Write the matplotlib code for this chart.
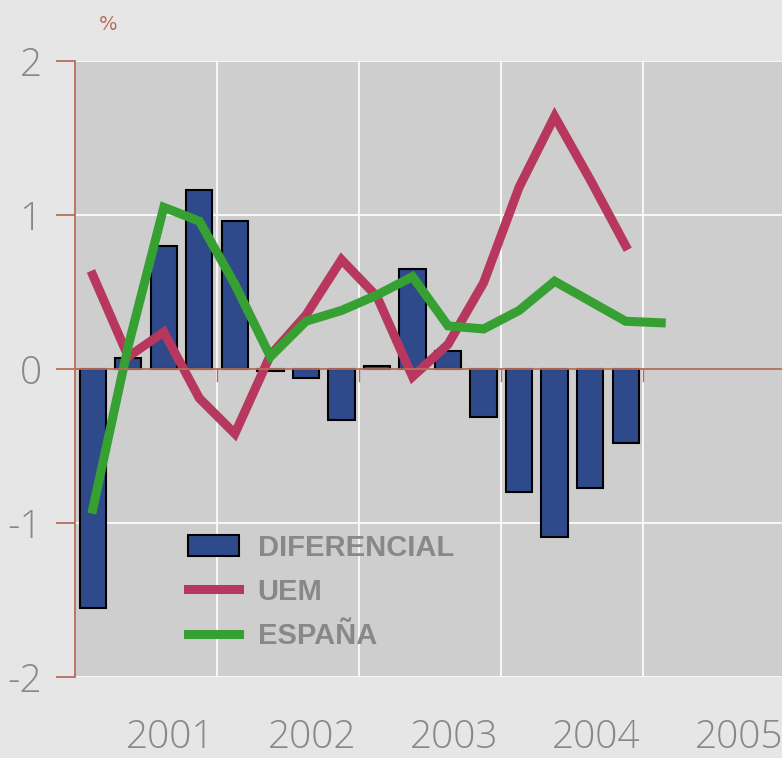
import matplotlib.pyplot as plt
import matplotlib.transforms as mtransforms
from matplotlib.patches import Patch
from matplotlib.lines import Line2D
import numpy as np

# Quarterly data 2001Q1 .. 2005Q1
diferencial = [-1.55, 0.07, 0.80, 1.16, 0.96, -0.01, -0.06, -0.33,
               0.02, 0.65, 0.12, -0.31, -0.80, -1.09, -0.77, -0.48]
uem = [0.61, 0.08, 0.24, -0.19, -0.42, 0.09, 0.35, 0.71,
       0.47, -0.05, 0.16, 0.56, 1.18, 1.64, 1.23, 0.80]
espana = [-0.91, 0.15, 1.05, 0.96, 0.55, 0.08, 0.31, 0.38,
          0.48, 0.60, 0.28, 0.26, 0.38, 0.57, 0.44, 0.31, 0.30]
years = ["2001", "2002", "2003", "2004", "2005"]

BG_FIG = "#e6e6e6"
BG_AX = "#cecece"
BLUE = "#2e4a8b"
RED = "#b8375e"
GREEN = "#36a032"
AXIS = "#b86e5c"
TXT = "#888888"

fig = plt.figure(figsize=(7.82, 7.58), dpi=100, facecolor=BG_FIG)
ax = fig.add_axes([75 / 782, 81 / 758, 707 / 782, 616 / 758])
ax.set_facecolor(BG_AX)

x_bar = np.arange(len(diferencial)) + 0.5
x_esp = np.arange(len(espana)) + 0.5

ax.bar(x_bar, diferencial, width=0.74, color=BLUE, edgecolor="black",
       linewidth=1.5, zorder=2)
ax.plot(x_bar, uem, color=RED, lw=6.5, solid_joinstyle="miter", zorder=3)
ax.plot(x_esp, espana, color=GREEN, lw=6.5, solid_joinstyle="miter", zorder=4)

ax.set_xlim(0, 19.9)
ax.set_ylim(-2, 2)

# grid
for yv in [-2, -1, 1, 2]:
    ax.axhline(yv, color="white", lw=1.2, zorder=1)
for k in range(1, 5):
    ax.axvline(4 * k, color="white", lw=1.2, zorder=1)
ax.axhline(0, color=AXIS, lw=1.3, zorder=5)
trans = mtransforms.blended_transform_factory(ax.transData, ax.transAxes)
for k in range(1, 6):
    ax.plot([4 * k, 4 * k], [0.5, 0.5 - 12 / 616], color=AXIS, lw=1.0,
            transform=trans, zorder=5, clip_on=False)

for s in ["top", "right", "bottom"]:
    ax.spines[s].set_visible(False)
ax.spines["left"].set_color(AXIS)
ax.spines["left"].set_linewidth(1.3)

ax.set_yticks([-2, -1, 0, 1, 2])
ax.set_yticklabels(["-2", "-1", "0", "1", "2"])
ax.tick_params(axis="y", length=14, width=1.3, color=AXIS, labelsize=28,
               labelcolor=TXT, pad=10)
ax.set_xticks([2.68 + 4 * k for k in range(len(years))])
ax.set_xticklabels(years)
ax.tick_params(axis="x", length=0, labelsize=28, labelcolor=TXT, pad=30)
for lab in ax.get_xticklabels() + ax.get_yticklabels():
    lab.set_fontfamily(["Open Sans", "DejaVu Sans"])
    lab.set_fontweight(300)

fig.text(108 / 782, 1 - 25 / 758, "%", color=AXIS, fontsize=14,
         ha="center", va="center")

handles = [Patch(facecolor=BLUE, edgecolor="black", linewidth=1.5),
           Line2D([], [], color=RED, lw=6.5),
           Line2D([], [], color=GREEN, lw=6.5)]
leg = ax.legend(handles, ["DIFERENCIAL", "UEM", "ESPAÑA"], loc="upper left",
                bbox_to_anchor=(0.122, 0.275), frameon=False,
                prop={"family": "Liberation Sans", "weight": "bold", "size": 21},
                handlelength=1.75, handleheight=0.75, labelspacing=0.55,
                handletextpad=0.65)
for t in leg.get_texts():
    t.set_color(TXT)

fig.savefig("out.png", dpi=100, facecolor=BG_FIG)
